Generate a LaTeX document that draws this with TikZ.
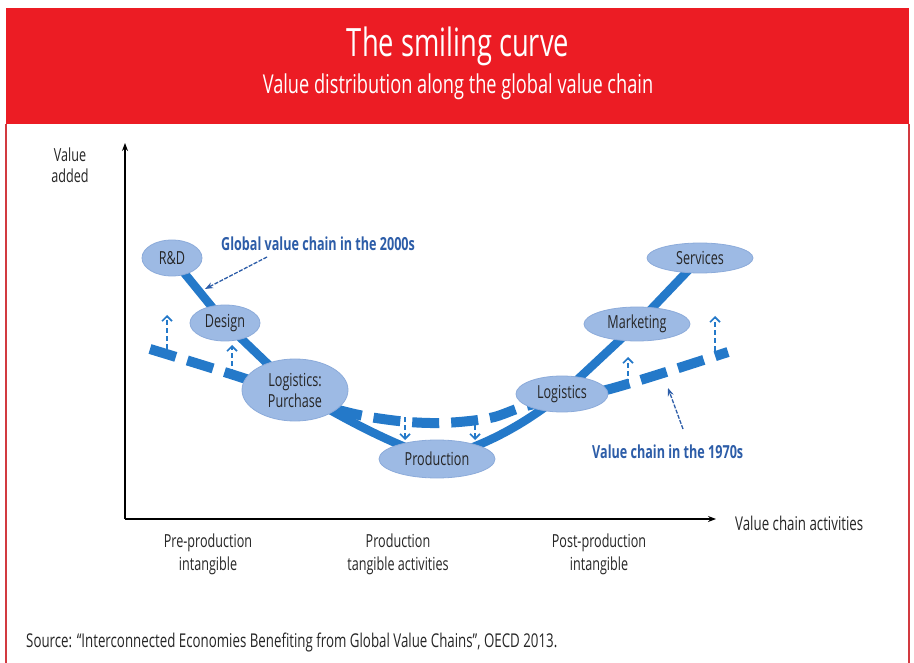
\documentclass[tikz,border=0pt]{standalone}
\usepackage{fontspec}
\setmainfont{Open Sans}[FakeStretch=0.7]
\usetikzlibrary{arrows.meta,shapes.geometric,backgrounds}
\definecolor{hdrred}{HTML}{EC1C24}
\definecolor{bordred}{HTML}{D23A40}
\definecolor{ellfill}{HTML}{9DBAE4}
\definecolor{elledge}{HTML}{8CABDA}
\definecolor{curveblue}{HTML}{2479C9}
\definecolor{annblue}{HTML}{2D5DA8}
\newcommand{\fsz}[2]{\fontsize{#1}{#2}\selectfont}
\begin{document}
\begin{tikzpicture}[x=1pt,y=-1pt,
  ell/.style={ellipse, draw=elledge, line width=0.8, fill=ellfill, inner sep=0pt,
              font=\fsz{18}{21}, text=black!85, align=center},
  smile/.style={line width=8.5, curveblue},
  oldchain/.style={line width=10, curveblue, dash pattern=on 27 off 12},
  shiftarrow/.style={line width=1.8, curveblue, dash pattern=on 5 off 3,
              -{Straight Barb[length=5,width=10,line width=1.6]}},
  annarrow/.style={line width=1.3, annblue, dash pattern=on 4 off 1.5,
              -{Stealth[length=8,width=6]}},
  anntext/.style={font=\bfseries\fsz{18}{21}, text=annblue, inner sep=0pt},
  axisline/.style={line width=1.3, black, -{Stealth[length=8,width=6]}},
  plain/.style={font=\fsz{18}{23}, text=black!85, align=center, inner sep=0pt}
]
\useasboundingbox (0,0) rectangle (914,663);
\begin{scope}[on background layer]
  \fill[white] (0,0) rectangle (914,663);
\end{scope}
% header
\fill[hdrred] (6,8) rectangle (909,124);
\draw[bordred, line width=2] (6,124) -- (6,663);
\draw[bordred, line width=2] (909,124) -- (909,663);
\node[text=white, font=\fsz{39}{44}, anchor=base, inner sep=0pt] (title) at (458,57) {The smiling curve};
\node[text=white, font=\fsz{26}{30}, anchor=base, inner sep=0pt] (subtitle) at (458,94) {Value distribution along the global value chain};

% axes
\coordinate (origin) at (125,519);
\coordinate (ytop) at (125,143);
\coordinate (xend) at (716,519);
\draw[axisline] (origin) -- (ytop);
\draw[axisline] (origin) -- (xend);
\node[plain, font=\fsz{18}{21}] (vadded) at (70,165) {Value\\added};
\node[plain, anchor=west, font=\fsz{19}{23}] (vca) at (735,523) {Value chain activities};
\node[plain] (pre) at (208,554) {Pre-production\\intangible};
\node[plain] (mid) at (398,554) {Production\\tangible activities};
\node[plain] (post) at (599,554) {Post-production\\intangible};
\node[plain, anchor=west, font=\fsz{19}{22}] (source) at (26,643) {Source: ``Interconnected Economies Benefiting from Global Value Chains'', OECD 2013.};

% activity ellipses
\node[ell, minimum width=60, minimum height=36] (rd) at (172,258) {R\&D};
\node[ell, minimum width=70, minimum height=36] (design) at (225,323) {Design};
\node[ell, minimum width=106, minimum height=62] (lp) at (295,390) {Logistics:\\Purchase};
\node[ell, minimum width=116, minimum height=38] (prod) at (437,459) {Production};
\node[ell, minimum width=92, minimum height=36] (log) at (562,394) {Logistics};
\node[ell, minimum width=106, minimum height=34] (mkt) at (637,324) {Marketing};
\node[ell, minimum width=106, minimum height=30] (serv) at (700,258) {Services};

\begin{scope}[on background layer]
  % global value chain in the 2000s
  \draw[smile] (rd.center) -- (design.center) -- (lp.center)
     .. controls (330,410) and (380,440) .. (prod.center)
     .. controls (490,445) and (530,420) .. (log.center)
     -- (mkt.center) -- (serv.center);
  % value chain in the 1970s
  \coordinate (oldstart) at (150,349);
  \coordinate (oldend) at (728,352);
  \draw[oldchain] plot[smooth, tension=0.55] coordinates
     {(oldstart) (240,377) (335,409) (390,420) (440,423) (490,418) (530,405) (610,389) (oldend)};
\end{scope}

% shift arrows
\coordinate (a1s) at (167,349); \coordinate (a1e) at (167,315);
\coordinate (a2s) at (232,374); \coordinate (a2e) at (232,345);
\coordinate (a3s) at (405,417); \coordinate (a3e) at (405,440);
\coordinate (a4s) at (475,417); \coordinate (a4e) at (475,440);
\coordinate (a5s) at (628,384); \coordinate (a5e) at (628,357);
\coordinate (a6s) at (715,351); \coordinate (a6e) at (715,316);
\draw[shiftarrow] (a1s) -- (a1e);
\draw[shiftarrow] (a2s) -- (a2e);
\draw[shiftarrow] (a3s) -- (a3e);
\draw[shiftarrow] (a4s) -- (a4e);
\draw[shiftarrow] (a5s) -- (a5e);
\draw[shiftarrow] (a6s) -- (a6e);

% annotations
\node[anntext, anchor=west] (t2000) at (221,244) {Global value chain in the 2000s};
\coordinate (s2000) at (267,257);
\coordinate (p2000) at (205,289);
\draw[annarrow] (s2000) -- (p2000);
\node[anntext, anchor=west] (t1970) at (592,452) {Value chain in the 1970s};
\coordinate (s1970) at (683,429);
\coordinate (p1970) at (668,388);
\draw[annarrow] (s1970) -- (p1970);
\end{tikzpicture}
\end{document}
